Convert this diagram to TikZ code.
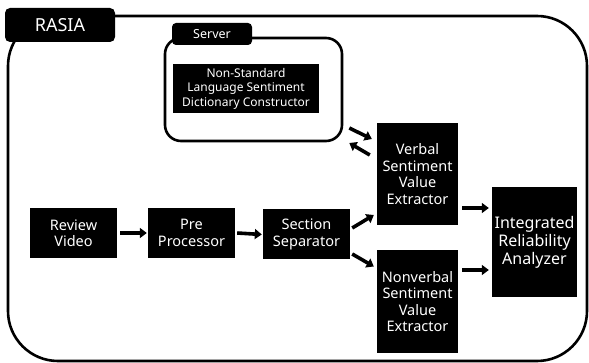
\documentclass[tikz,border=0pt]{standalone}
\usepackage{fontspec}
\setmainfont{Noto Sans}
\usetikzlibrary{arrows.meta}
\begin{document}
\begin{tikzpicture}[x=1pt,y=-1pt,
  frame/.style={draw=black,line width=2.6pt,rounded corners=50pt},
  blk/.style={fill=black,text=white,inner sep=0pt,align=center},
  tab/.style={fill=black,text=white,rounded corners=5pt,inner sep=0pt},
  arr/.style={line width=3.6pt,-{Triangle[length=7pt,width=10pt]}},
  bodyfont/.style={font=\fontsize{14.5}{16.5}\selectfont},
  bigfont/.style={font=\fontsize{16}{18}\selectfont}]
\useasboundingbox (0,0) rectangle (589,363);
% outer frame
\node[frame,minimum width=579pt,minimum height=345pt,inner sep=0pt] (rasiaframe) at (297.5,188.5) {};
\node[tab,minimum width=110pt,minimum height=34pt,font=\fontsize{18}{20}\selectfont] (rasia) at (60,25) {RASIA};
% server
\node[draw=black,line width=2.6pt,rounded corners=16pt,minimum width=177pt,minimum height=103pt,inner sep=0pt] (server) at (253.5,89.5) {};
\node[tab,rounded corners=4pt,minimum width=80pt,minimum height=22pt,font=\fontsize{12.5}{14}\selectfont] (servertab) at (212,34) {Server};
\node[blk,minimum width=146pt,minimum height=49pt,font=\fontsize{12}{14.5}\selectfont] (nonstd) at (246,88.5) {Non-Standard\\Language Sentiment\\Dictionary Constructor};
% main nodes
\node[blk,bodyfont,minimum width=87pt,minimum height=50pt] (review) at (73.5,233) {Review\\Video};
\node[blk,bodyfont,minimum width=87pt,minimum height=50pt] (pre) at (191.5,233) {Pre\\Processor};
\node[blk,bodyfont,minimum width=87pt,minimum height=50pt] (section) at (306.5,234.5) {Section\\Separator};
\node[blk,bodyfont,minimum width=81pt,minimum height=102pt] (verbal) at (417.5,174) {Verbal\\Sentiment\\Value\\Extractor};
\node[blk,bodyfont,minimum width=81pt,minimum height=103pt] (nonverbal) at (417.5,301.5) {Nonverbal\\Sentiment\\Value\\Extractor};
\node[blk,bigfont,minimum width=85pt,minimum height=110pt] (integrated) at (534.5,242) {Integrated\\Reliability\\Analyzer};
% arrows
\draw[arr] ([xshift=3pt]review.east) -- ([xshift=-1pt]pre.west);
\draw[arr] ([xshift=2pt]pre.east) -- ([xshift=-1pt]section.west);
\draw[arr] ([xshift=2pt,yshift=6.5pt]section.east) -- ([xshift=-3pt,yshift=-41pt]verbal.west);
\draw[arr] ([xshift=2pt,yshift=-19.5pt]section.east) -- ([xshift=-3pt,yshift=35pt]nonverbal.west);
\draw[arr] ([xshift=4pt,yshift=-34pt]verbal.east) -- ([xshift=-3pt,yshift=34pt]integrated.west);
\draw[arr] ([xshift=4pt,yshift=31.5pt]nonverbal.east) -- ([xshift=-3pt,yshift=-28pt]integrated.west);
\draw[arr] ([xshift=6pt,yshift=-38.5pt]server.east) -- ([xshift=-5pt,yshift=35pt]verbal.west);
\draw[arr] ([xshift=-7pt,yshift=19pt]verbal.west) -- ([xshift=6pt,yshift=-53.5pt]server.east);
\end{tikzpicture}
\end{document}
